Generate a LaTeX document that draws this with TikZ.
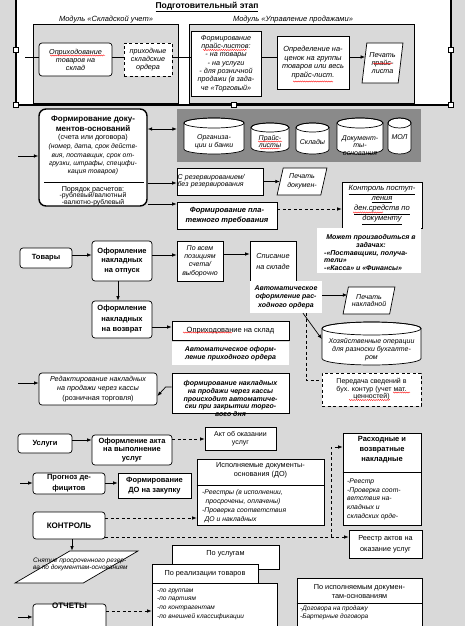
\documentclass[tikz,border=0pt]{standalone}
\usepackage{fontspec}
\setmainfont{Liberation Sans}
\usetikzlibrary{shapes.geometric,arrows.meta,decorations.pathmorphing}
\definecolor{bg}{RGB}{217,217,217}
\definecolor{dbg}{RGB}{138,138,138}
\newcommand\fsz[2]{\fontsize{#1}{#2}\selectfont}
\newcommand\cylshape[5]{%
  \filldraw[fill=white,line width=0.7pt] (#1,#2+#5) -- (#1,#4-#5)
    arc[start angle=180,end angle=0,x radius={(#3-#1)/2},y radius=#5]
    -- (#3,#2+#5)
    arc[start angle=0,end angle=-180,x radius={(#3-#1)/2},y radius=#5] -- cycle;
  \draw[line width=0.7pt] ({(#1+#3)/2},#2+#5) ellipse [x radius={(#3-#1)/2},y radius=#5];}
\begin{document}
\begin{tikzpicture}[x=1pt,y=-1pt,
  box/.style={draw,fill=white,line width=0.7pt,inner sep=0.5pt,align=center},
  rbox/.style={box,rounded corners=3pt},
  wbox/.style={fill=white,inner sep=0.5pt,align=center},
  txt/.style={inner sep=0pt,align=center},
  para/.style={trapezium,trapezium stretches=true,draw,fill=white,line width=0.7pt,inner sep=1pt,align=center},
  handle/.style={draw,fill=white,line width=0.6pt,minimum size=5pt,inner sep=0pt},
  ln/.style={line width=0.7pt},
  arr/.style={ln,-{Latex[length=4.5pt,width=3.6pt]}},
  darr/.style={ln,{Latex[length=4.5pt,width=3.6pt]}-{Latex[length=4.5pt,width=3.6pt]}},
  dsh/.style={dash pattern=on 3pt off 2.5pt},
  wavy/.style={red,line width=0.35pt,decorate,decoration={snake,amplitude=0.55pt,segment length=2.2pt}}
]
\useasboundingbox (0,0) rectangle (465,626);
\clip (0,0) rectangle (465,626);
\fill[bg] (0,0) rectangle (465,626);

% ---------- top frame ----------
\draw[line width=2pt,fill=white] (16,-5) rectangle (451,105);
\node[txt,font={\fsz{8.5}{10}\bfseries}] (title) at (207,7) {\underline{Подготовительный этап}};
\node[txt,font={\fsz{7.5}{9}\itshape}] (m1l) at (106,19.5) {Модуль «Складской учет»};
\node[txt,font={\fsz{7.5}{9}\itshape}] (m2l) at (293,19.5) {Модуль «Управление продажами»};
\node[draw,fill=bg,line width=0.7pt,inner sep=0pt,minimum width=145pt,minimum height=79pt] (mod1) at (105.5,63.5) {};
\node[draw,fill=bg,line width=0.7pt,inner sep=0pt,minimum width=225pt,minimum height=79pt] (mod2) at (301.5,63.5) {};
\node[rbox,font={\fsz{7.2}{8}\itshape},minimum width=73pt,minimum height=33pt] (opr) at (75.5,59.5) {Оприходование\\товаров на\\склад};
\node[box,dsh,font={\fsz{7.2}{8}\itshape},minimum width=48pt,minimum height=33pt] (ord) at (148,59.5) {приходные\\складские\\ордера};
\node[box,font={\fsz{7.2}{8.3}\itshape},minimum width=70pt,minimum height=65pt] (fpl) at (226,63.5) {Формирование\\прайс-листов:\\- на товары\\- на услуги\\- для розничной\\продажи (в зада-\\че «Торговый»};
\node[box,font={\fsz{7.4}{8.4}\itshape},minimum width=72pt,minimum height=53pt] (nac) at (313,62.5) {Определение на-\\ценок на группы\\товаров или весь\\прайс-лист.};
\node[para,trapezium left angle=79,trapezium right angle=101,font={\fsz{7.2}{7.6}\itshape},minimum width=41pt,minimum height=40pt] (ppl) at (382.5,63) {Печать\\прайс-\\листа};
\node[handle] (h1) at (16,50) {};
\node[handle] (h2) at (451,50) {};
\node[handle] (h3) at (16,105) {};
\node[handle] (h4) at (234,105) {};
\node[handle] (h5) at (451,105) {};
\coordinate (s1) at (25,57);
\draw[ln] (s1) -- (s1 -| opr.west);
\draw[ln] (opr.east |- s1) -- (ord.west |- s1);
\draw[ln] (ord.east |- s1) -- (fpl.west |- s1);
\draw[ln] (fpl.east |- s1) -- (nac.west |- s1);
\draw[arr] (nac.east |- s1) -- ([xshift=1pt]ppl.west |- s1);

% ---------- documents ----------
\node[rbox,line width=1.4pt,rounded corners=7pt,minimum width=108pt,minimum height=97pt] (fdo) at (93,157.5) {};
\node[txt,font={\fsz{8}{10}\bfseries}] (fdoA) at (93,124) {Формирование доку-\\ментов-оснований};
\node[txt,font={\fsz{7.2}{9}}] (fdoB) at (93,138) {(счета или договора)};
\node[txt,font={\fsz{6.8}{8.3}\itshape}] (fdoC) at (93,159.5) {(номер, дата, срок действ-\\вия, поставщик, срок от-\\грузки, штрафы, специфи-\\кация товаров)};
\draw[ln] ([xshift=6pt]fdo.west |- 0,182) -- ([xshift=-4pt]fdo.east |- 0,182);
\node[txt,font={\fsz{7.2}{9}}] (fdoD) at (93,189.5) {Порядок расчетов:};
\node[txt,font={\fsz{6.8}{7}}] (fdoE) at (93,199.5) {-рублевый/валютный\\-валютно-рублевый};
\node[fill=dbg,inner sep=0pt,minimum width=244pt,minimum height=53pt] (db) at (299,135.5) {};
\cylshape{184}{118}{244}{154}{5}
\cylshape{251}{123}{289}{152}{4.5}
\cylshape{296}{123}{329}{154}{4.5}
\cylshape{337}{118}{383}{154}{5}
\cylshape{388}{118}{411}{154}{5}
\node[txt,font={\fsz{7}{8}\itshape}] (c1t) at (214,142) {Организа-\\ции и банки};
\node[txt,font={\fsz{7}{7.5}\itshape}] (c2t) at (270,141.5) {Прайс-\\листы};
\node[txt,font={\fsz{7}{8}\itshape}] (c3t) at (312.5,142) {Склады};
\node[txt,font={\fsz{7}{7.6}\itshape}] (c4t) at (360,145.5) {Документ-\\ты-\\основания};
\node[txt,font={\fsz{7}{8}\itshape}] (c5t) at (399.5,137) {МОЛ};
\node[box,font={\fsz{7}{7.3}\itshape},minimum width=86pt,minimum height=27pt,text width=85pt,align=left,inner xsep=0pt] (res) at (220,181.5) {С резервированием/\\без резервирования};
\node[para,trapezium left angle=73,trapezium right angle=107,font={\fsz{7}{8.5}\itshape},minimum width=50pt,minimum height=27pt] (pdoc) at (302,181.5) {Печать\\докумен-};
\node[box,font={\fsz{7.5}{10}\bfseries\itshape},minimum width=100pt,minimum height=27pt] (fpt) at (227,215.5) {Формирование пла-\\тежного требования};
\node[box,font={\fsz{7.6}{10}\itshape},minimum width=80pt,minimum height=46pt] (kon) at (382,205) {\underline{Контроль поступ-}\\\underline{ления}\\\underline{ден.средств по}\\\underline{документу}};
\node[wbox,minimum width=104pt,minimum height=45pt] (mozh) at (369,250.5) {};
\node[txt,font={\fsz{7}{7.8}\bfseries\itshape}] (mozhA) at (371,241) {Может производиться в\\задачах:};
\node[txt,font={\fsz{7}{7.6}\bfseries\itshape},align=left,anchor=west] (mozhB) at (324,260.5) {-«Поставщики, получа-\\тели»\\-«Касса» и «Финансы»};
\coordinate (s2) at (18,156);
\draw[arr] (s2) -- (s2 -| fdo.west);
\draw[darr] (fdo.east |- 0,129) -- (db.west |- 0,129);
\draw[arr] (fdo.east |- 0,183) -- (res.west |- 0,183);
\draw[arr] (fdo.east |- 0,204) -- (fpt.west |- 0,204);
\draw[arr] (res) -- (pdoc);
\draw[arr,dsh] (fpt.east |- 0,209) -- (kon.west |- 0,209);

% ---------- goods ----------
\node[rbox,font={\fsz{7.5}{9}\bfseries},minimum width=52pt,minimum height=20pt] (tov) at (46,258) {Товары};
\node[rbox,font={\fsz{7.5}{9.2}\bfseries},minimum width=60pt,minimum height=40pt] (otp) at (122,261) {Оформление\\накладных\\на отпуск};
\node[box,font={\fsz{7}{8.3}\itshape},minimum width=46pt,minimum height=40pt] (vse) at (200,261) {По всем\\позициям\\счета/\\выборочно};
\node[box,font={\fsz{7.3}{11}\itshape},minimum width=46pt,minimum height=40pt] (spis) at (273,261) {Списание\\на складе};
\node[rbox,font={\fsz{7.5}{10.5}\bfseries},minimum width=60pt,minimum height=37pt] (vozv) at (122,319.5) {Оформление\\накладных\\на возврат};
\node[box,font={\fsz{7.5}{9}},minimum width=117pt,minimum height=19pt] (opr2) at (230.5,330.5) {Оприходование на склад};
\node[wbox,font={\fsz{7}{7.5}\bfseries\itshape},minimum width=117pt,minimum height=23pt] (apo) at (230.5,353.5) {Автоматическое оформ-\\ление приходного ордера};
\node[wbox,font={\fsz{7}{8.5}\bfseries\itshape},minimum width=72pt,minimum height=32pt] (aro) at (286,297) {Автоматическое\\оформление рас-\\ходного ордера};
\node[para,trapezium left angle=72,trapezium right angle=108,font={\fsz{7}{7.5}\itshape},minimum width=52pt,minimum height=27pt] (pnak) at (369,300.5) {Печать\\накладной};
\cylshape{322}{322}{421}{365}{6.5}
\node[inner sep=0pt,minimum width=99pt,minimum height=43pt] (hoz) at (371.5,343.5) {};
\node[txt,font={\fsz{7}{8}\itshape}] (hozt) at (371.5,350) {Хозяйственные операции\\для разноски бухгалте-\\ром};
\node[box,dsh,font={\fsz{7}{7.5}},minimum width=99pt,minimum height=33pt] (per) at (371.5,389.5) {Передача сведений в\\бух. контур (учет мат.\\ценностей)};
\draw[arr] (tov.east |- 0,255) -- (otp.west |- 0,255);
\draw[arr] (otp.east |- 0,255) -- (vse.west |- 0,255);
\draw[arr] (vse.east |- 0,254) -- (spis.west |- 0,254);
\draw[arr] (otp.south -| 118,0) -- (vozv.north -| 118,0);
\draw[arr] (vozv.east |- 0,327) -- (opr2.west |- 0,327);
\draw[arr] (aro.east |- 0,295) -- ([xshift=2pt]pnak.west |- 0,295);
\draw[arr] (aro.south -| 303,0) -- (hoz.west |- 0,339);
\draw[ln,dsh] (aro.south -| 306,0) |- (per.west |- 0,380);

% ---------- retail ----------
\node[rbox,font={\fsz{7.2}{9.5}},minimum width=118pt,minimum height=32pt] (red) at (98,389) {\itshape Редактирование накладных\\\itshape на продажи через кассы\\\upshape (розничная торговля)};
\node[box,minimum width=117pt,minimum height=40pt] (fnk) at (230.5,393) {};
\node[txt,font={\fsz{7}{7.8}\bfseries\itshape}] (fnkt) at (230.5,398.5) {формирование накладных\\на продажи через кассы\\происходит автоматиче-\\ски при закрытии торго-\\вого дня};
\coordinate (s4) at (18,383);
\draw[arr] (s4) -- (s4 -| red.west);
\draw[arr] (fnk.west |- 0,387) -- ++(-6,0) -- (red.east |- 0,396);

% ---------- services ----------
\node[rbox,font={\fsz{7.5}{9}\bfseries},minimum width=54pt,minimum height=19pt] (usl) at (45,443.5) {Услуги};
\node[rbox,font={\fsz{7.5}{8.2}\bfseries},minimum width=80pt,minimum height=30pt] (akt) at (132,450) {Оформление акта\\на выполнение\\услуг};
\node[box,font={\fsz{7}{8}},minimum width=71pt,minimum height=23pt] (aktu) at (240.5,438.5) {Акт об оказании\\услуг};
\draw[arr] (usl.east |- 0,440) -- (akt.west |- 0,440);
\draw[arr,dsh] (akt.east |- 0,439) -- (aktu.west |- 0,439);

\node[box,minimum width=78pt,minimum height=92pt] (rvn) at (382,479) {};
\draw[ln] (rvn.west |- 0,472) -- (rvn.east |- 0,472);
\node[txt,font={\fsz{7.5}{10}\bfseries}] (rvnA) at (382,450) {Расходные и\\возвратные\\накладные};
\node[txt,font={\fsz{6.8}{8.7}\itshape},align=left,anchor=north west] (rvnB) at (347,478.5) {-Реестр\\-Проверка соот-\\ветствия на-\\кладных и\\складских орде-};

\node[rbox,font={\fsz{7.5}{11}\bfseries},minimum width=72pt,minimum height=21pt] (pdf) at (69,483.5) {Прогноз де-\\фицитов};
\node[box,font={\fsz{7.5}{10}\bfseries},minimum width=73pt,minimum height=25pt] (fdz) at (154.5,485.5) {Формирование\\ДО на закупку};
\coordinate (s5) at (20,483);
\draw[arr] (s5) -- (s5 -| pdf.west);
\draw[arr] (pdf.east |- 0,483) -- (fdz.west |- 0,483);

\node[box,minimum width=127pt,minimum height=66pt] (isp) at (260.5,492) {};
\draw[ln] (isp.west |- 0,485) -- (isp.east |- 0,485);
\node[txt,font={\fsz{7.3}{9}}] (ispA) at (260.5,470.5) {Исполняемые документы-\\основания (ДО)};
\node[txt,font={\fsz{6.8}{9}\itshape},align=left,anchor=north west] (ispB) at (202,489) {-Реестры (в исполнении,\\\hspace*{3.5pt}просрочены, оплачены)\\-Проверка соответствия\\\hspace*{2.5pt}ДО и накладных};

\node[rbox,font={\fsz{8}{9}\bfseries},minimum width=72pt,minimum height=27pt] (ktr) at (69,525.5) {КОНТРОЛЬ};
\node[box,font={\fsz{7.3}{11}},minimum width=73pt,minimum height=28pt] (rea) at (385.5,544) {Реестр актов на\\оказание услуг};
\coordinate (jn) at (331,537);
\draw[arr,dsh] (ktr.east |- 0,518) -- (isp.west |- 0,518);
\draw[arr,dsh] (ktr.east |- jn) -- (rea.west |- jn);
\draw[arr,dsh] (jn) |- (rvn.west |- 0,447);

\node[para,trapezium left angle=60,trapezium right angle=120,minimum width=123pt,minimum height=32pt] (snt) at (76.5,567) {\strut};
\node[txt,font={\fsz{6.5}{6.8}\itshape},align=left,anchor=west] (sntt) at (33,564) {Снятие просроченного резер-\\ва по документам-основаниям};
\draw[arr] (ktr.south -| 72,0) -- (snt.north -| 72,0);

% ---------- reports ----------
\node[rbox,minimum width=73pt,minimum height=34pt] (otch) at (69.5,621) {};
\node[txt,font={\fsz{8}{9}\bfseries}] (otcht) at (69.5,606) {ОТЧЕТЫ};
\coordinate (s6) at (18,617);
\draw[arr] (s6) -- (s6 -| otch.west);

\node[box,minimum width=107pt,minimum height=24pt] (pus) at (225.5,557) {};
\node[txt,font={\fsz{7.3}{9}}] (pust) at (225.5,553.5) {По услугам};
\node[box,font={\fsz{7.3}{9}},minimum width=106pt,minimum height=19pt] (prt) at (205,573.5) {По реализации товаров};
\node[box,minimum width=125pt,minimum height=50pt] (prl) at (214.5,608) {};
\node[txt,font={\fsz{6.5}{8.7}\itshape},align=left,anchor=north west] (prlt) at (157,588.5) {-по группам\\-по партиям\\-по контрагентам\\-по внешней классификации};
\draw[arr,dsh] (otch.east |- 0,611) -- (prl.west |- 0,611);

\node[box,minimum width=125pt,minimum height=52pt] (pid) at (359.5,604) {};
\draw[ln] (pid.west |- 0,603) -- (pid.east |- 0,603);
\node[txt,font={\fsz{7.3}{9}}] (pidA) at (359.5,591.5) {По исполняемым докумен-\\там-основаниям};
\node[txt,font={\fsz{6.5}{8}\itshape},align=left,anchor=north west] (pidB) at (300,605.5) {-Договора на продажу\\-Бартерные договора};

% ---------- spell-check marks ----------
\draw[wavy] (50,55.5) -- (105,55.5);
\draw[wavy] (203,50) -- (247,50);
\draw[wavy] (293,81.5) -- (333,81.5);
\draw[wavy] (373,63.5) -- (392,63.5);
\draw[wavy] (258,141.5) -- (282,141.5);
\draw[wavy] (260,148.5) -- (280,148.5);
\draw[wavy] (353,212.5) -- (383,212.5);
\draw[wavy] (183,332.5) -- (232,332.5);
\draw[wavy] (393,392.5) -- (410,392.5);
\draw[wavy] (349,400) -- (390,400);
\end{tikzpicture}
\end{document}
